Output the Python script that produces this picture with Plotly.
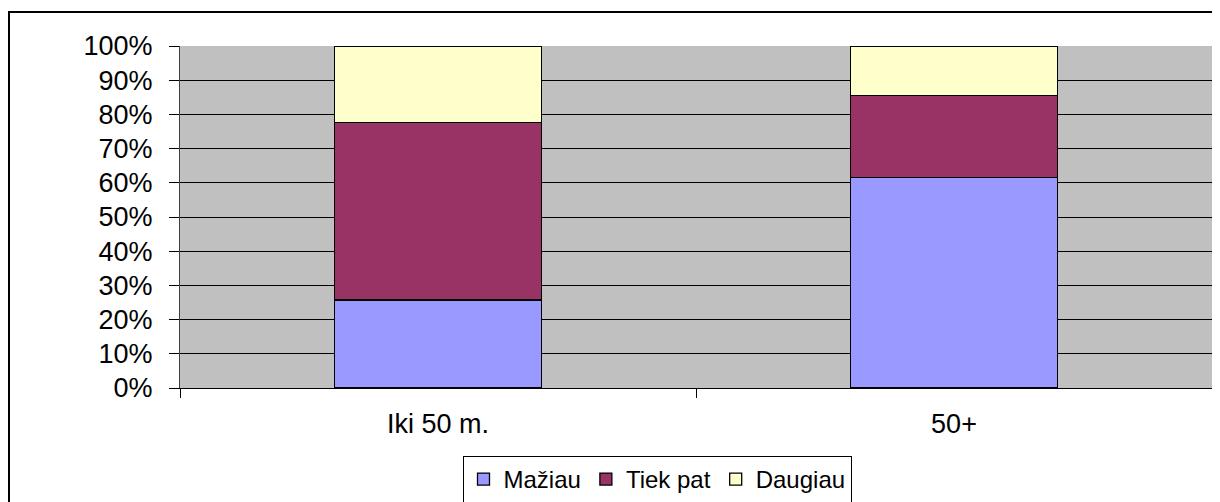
import plotly.graph_objects as go

categories = ["Iki 50 m.", "50+"]
series_names = ["Mažiau", "Tiek pat", "Daugiau"]
maziau = [25.7, 61.5]
tiek_pat = [51.9, 24.0]
daugiau = [22.4, 14.5]
colors = ["#9999FF", "#993366", "#FFFFCC"]

# page body has an 8px margin, so figure coords = screen coords - 8
OFF = 8
W, H = 1220, 502
L, T = 180 - OFF, 46 - OFF
R = W - (1212 - OFF)
B = H - (388 - OFF)
pw = W - L - R
ph = H - T - B


def px_x(sx):
    return (sx - OFF - L) / pw


def px_y(sy):
    return (T + ph - (sy - OFF)) / ph


fig = go.Figure()
for name, vals, col in zip(series_names, [maziau, tiek_pat, daugiau], colors):
    fig.add_trace(go.Bar(
        x=categories, y=vals, name=name,
        marker=dict(color=col, line=dict(color="black", width=1.3)),
        width=0.4,
    ))

font = dict(family="Liberation Sans, Arial, sans-serif", size=27, color="black")
lfont = dict(family="Liberation Sans, Arial, sans-serif", size=24, color="black")

fig.update_layout(
    barmode="stack",
    width=W, height=H,
    margin=dict(l=L, r=R, t=T, b=B, autoexpand=False),
    paper_bgcolor="white",
    plot_bgcolor="#C0C0C0",
    font=font,
    showlegend=True,
    legend=dict(
        orientation="h",
        traceorder="normal",
        x=px_x(657), xanchor="center",
        y=px_y(456), yanchor="top",
        bordercolor="black", borderwidth=1,
        font=lfont,
        itemwidth=30,
        tracegroupgap=0,
    ),
    xaxis=dict(
        type="category",
        tickson="boundaries",
        ticks="outside", ticklen=9, tickcolor="black",
        ticklabelstandoff=12,
        showline=True, linecolor="black", linewidth=1,
        showgrid=False,
        tickfont=font,
    ),
    yaxis=dict(
        range=[0, 100],
        tickvals=list(range(0, 101, 10)),
        ticktext=[f"{v}%" for v in range(0, 101, 10)],
        ticks="outside", ticklen=10, tickcolor="black",
        ticklabelstandoff=11,
        showline=True, linecolor="#404040", linewidth=1,
        showgrid=True, gridcolor="black", gridwidth=1,
        zeroline=False,
        tickfont=font,
    ),
)

# outer chart border
fig.add_shape(
    type="rect", xref="paper", yref="paper",
    x0=px_x(9), x1=px_x(W + 20),
    y0=px_y(H + 20), y1=px_y(12),
    line=dict(color="black", width=2), fillcolor="rgba(0,0,0,0)",
    layer="below",
)

fig.write_html("out.html")
